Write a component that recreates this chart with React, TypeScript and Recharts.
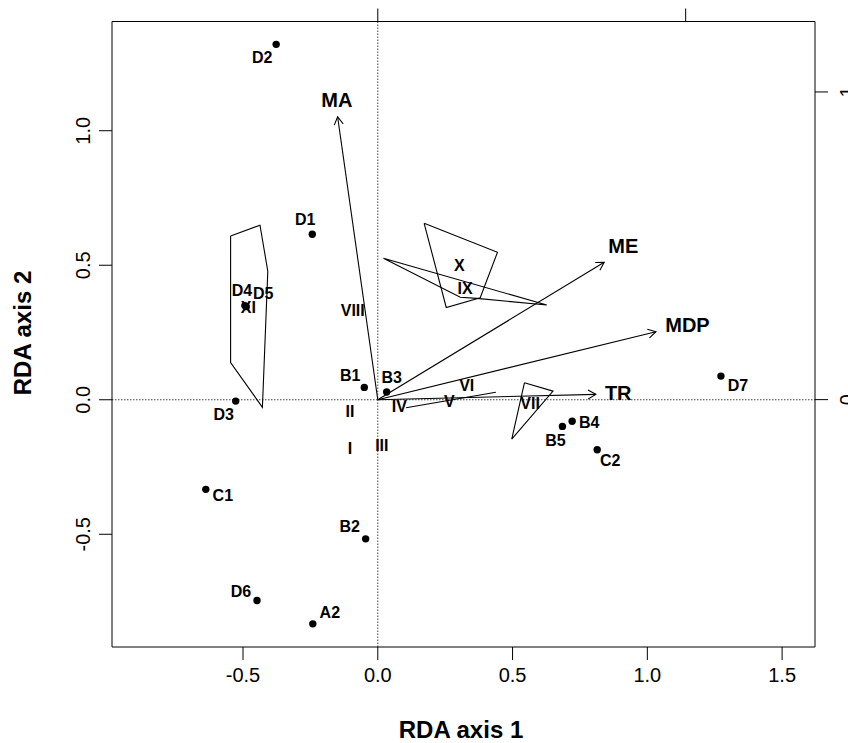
import { ScatterChart, Scatter, XAxis, YAxis, ReferenceLine, Label } from "recharts";

const FONT = "'Liberation Sans', Arial, Helvetica, sans-serif";

const X_TICKS = [-0.5, 0, 0.5, 1, 1.5];
const Y_TICKS = [-0.5, 0, 0.5, 1];
const TOP_TICKS = [0, 1];
const RIGHT_TICKS = [0, 1];
// one unit of the secondary (top) axis, in RDA axis 1 units
const TOP_UNIT = 1.1422;

// sites (dots)
const SITE_NAMES = ["D2", "D1", "D4", "D5", "D3", "C1", "B2", "D6", "A2", "B1", "B3", "D7", "B4", "B5", "C2"];
const SITE_X = [-0.377, -0.243, -0.493, -0.488, -0.527, -0.638, -0.045, -0.448, -0.241, -0.05, 0.033, 1.273, 0.721, 0.685, 0.814];
const SITE_Y = [1.321, 0.615, 0.35, 0.346, -0.005, -0.333, -0.517, -0.746, -0.833, 0.046, 0.029, 0.088, -0.08, -0.099, -0.186];
// where each site name sits relative to its dot, px
const SITE_DX = [-14, -7, -3, 17, -12, 17, -16, -16, 17, -14, 5, 17, 17, -7, 13];
const SITE_DY = [13, -15, -15, -13, 13, 6, -12, -9, -11, -12, -15, 9, 1, 14, 11];

// environmental vectors
const VAR_NAMES = ["MA", "ME", "MDP", "TR"];
const VAR_X = [-0.149, 0.84, 1.032, 0.809];
const VAR_Y = [1.052, 0.511, 0.253, 0.02];
const VAR_LABEL_X = [-0.152, 0.911, 1.149, 0.892];
const VAR_LABEL_Y = [1.114, 0.572, 0.278, 0.025];

// group centroids
const GROUP_NAMES = ["I", "II", "III", "IV", "V", "VI", "VII", "VIII", "IX", "X", "XI"];
const GROUP_X = [-0.103, -0.103, 0.015, 0.08, 0.265, 0.33, 0.565, -0.093, 0.324, 0.303, -0.48];
const GROUP_Y = [-0.181, -0.045, -0.168, -0.023, -0.007, 0.055, -0.013, 0.331, 0.414, 0.498, 0.343];

// group hulls
const HULL_XI: [number, number][] = [[-0.546, 0.609], [-0.437, 0.649], [-0.408, 0.478], [-0.428, -0.028], [-0.546, 0.138]];
const HULL_X: [number, number][] = [[0.172, 0.656], [0.444, 0.548], [0.38, 0.379], [0.254, 0.343]];
const HULL_IX: [number, number][] = [[0.021, 0.526], [0.627, 0.352], [0.367, 0.377], [0.306, 0.381]];
const HULL_VII: [number, number][] = [[0.544, 0.063], [0.65, 0.032], [0.497, -0.146]];
const HULL_V: [number, number][] = [[0.105, -0.03], [0.438, 0.028]];

const HULLS = [HULL_XI, HULL_X, HULL_IX, HULL_VII, HULL_V];

const sites = SITE_NAMES.map((name, i) => ({ name, x: SITE_X[i], y: SITE_Y[i], dx: SITE_DX[i], dy: SITE_DY[i] }));
const varLabels = VAR_NAMES.map((name, i) => ({ name, x: VAR_LABEL_X[i], y: VAR_LABEL_Y[i] }));
const groups = GROUP_NAMES.map((name, i) => ({ name, x: GROUP_X[i], y: GROUP_Y[i] }));

const fmt = (v: number) => v.toFixed(1);

const BottomTick = (p: any) => (
  <text x={p.x} y={p.y + 22} textAnchor="middle" fontSize={20} fontFamily={FONT} fill="#000">
    {fmt(p.payload.value)}
  </text>
);

const LeftTick = (p: any) => {
  const x = p.x - 9;
  return (
    <text x={x} y={p.y} transform={`rotate(-90, ${x}, ${p.y})`} textAnchor="middle" fontSize={20} fontFamily={FONT} fill="#000">
      {fmt(p.payload.value)}
    </text>
  );
};

// right-hand labels sit half outside the page, as in the source figure
const RightTick = (p: any) => {
  const x = p.x + 26;
  return (
    <text x={x} y={p.y} transform={`rotate(-90, ${x}, ${p.y})`} textAnchor="middle" fontSize={20} fontFamily={FONT} fill="#000">
      {p.payload.value}
    </text>
  );
};

// top axis tick: a short mark going up from the frame
const TopTickMark = (p: any) => {
  const top = Math.min(p.y1, p.y2);
  return <line x1={p.x1} y1={top} x2={p.x1} y2={top - 13} stroke="#000" strokeWidth={1} />;
};

const NoDot = () => <g />;

const Arrow = (p: any) => {
  const { x1, y1, x2, y2 } = p;
  const ang = Math.atan2(y2 - y1, x2 - x1);
  const len = 9;
  const spread = Math.PI / 6;
  const ax = x2 - len * Math.cos(ang - spread);
  const ay = y2 - len * Math.sin(ang - spread);
  const bx = x2 - len * Math.cos(ang + spread);
  const by = y2 - len * Math.sin(ang + spread);
  return (
    <g stroke="#000" strokeWidth={1.1} fill="none">
      <line x1={x1} y1={y1} x2={x2} y2={y2} />
      <polyline points={`${ax},${ay} ${x2},${y2} ${bx},${by}`} />
    </g>
  );
};

const SiteDot = (p: any) => (
  <g>
    <circle cx={p.cx} cy={p.cy} r={3.7} fill="#000" />
    <text x={p.cx + p.payload.dx} y={p.cy + p.payload.dy} dy="0.35em" textAnchor="middle" fontSize={16} fontWeight="bold" fontFamily={FONT} fill="#000">
      {p.payload.name}
    </text>
  </g>
);

const VarText = (p: any) => (
  <text x={p.cx} y={p.cy} dy="0.35em" textAnchor="middle" fontSize={20} fontWeight="bold" fontFamily={FONT} fill="#000">
    {p.payload.name}
  </text>
);

const GroupText = (p: any) => (
  <text x={p.cx} y={p.cy} dy="0.35em" textAnchor="middle" fontSize={16} fontWeight="bold" fontFamily={FONT} fill="#000">
    {p.payload.name}
  </text>
);

const XTitle = () => (
  <text x={461} y={738} textAnchor="middle" fontSize={24} fontWeight="bold" fontFamily={FONT} fill="#000">
    RDA axis 1
  </text>
);

const YTitle = () => (
  <text x={31} y={333} transform="rotate(-90, 31, 333)" textAnchor="middle" fontSize={24} fontWeight="bold" fontFamily={FONT} fill="#000">
    RDA axis 2
  </text>
);

export default function App() {
  return (
    <div style={{ position: "absolute", left: 0, top: 0, background: "#fff" }}>
      <ScatterChart width={848} height={743} margin={{ top: 1.5, right: 3, bottom: 36, left: 52 }}>
        <XAxis
          xAxisId="x"
          type="number"
          dataKey="x"
          domain={[-0.986, 1.622]}
          allowDataOverflow
          ticks={X_TICKS}
          tick={BottomTick}
          tickSize={13}
          tickMargin={0}
          height={60}
          stroke="#000"
          tickLine={{ stroke: "#000" }}
        >
          <Label content={XTitle} />
        </XAxis>
        <XAxis
          xAxisId="top"
          orientation="top"
          type="number"
          domain={[-0.8635, 1.42]}
          allowDataOverflow
          tick={false}
          tickLine={false}
          height={20}
          stroke="#000"
        />
        <YAxis
          yAxisId="y"
          type="number"
          dataKey="y"
          domain={[-0.919, 1.406]}
          allowDataOverflow
          ticks={Y_TICKS}
          tick={LeftTick}
          tickSize={13}
          tickMargin={0}
          width={60}
          stroke="#000"
        >
          <Label content={YTitle} />
        </YAxis>
        <YAxis
          yAxisId="right"
          orientation="right"
          type="number"
          domain={[-0.804, 1.229]}
          allowDataOverflow
          ticks={RIGHT_TICKS}
          tick={RightTick}
          tickSize={13}
          tickMargin={0}
          width={30}
          stroke="#000"
        />

        <ReferenceLine xAxisId="x" yAxisId="y" x={0} stroke="#444" strokeDasharray="1.5 1.5" />
        <ReferenceLine xAxisId="x" yAxisId="y" y={0} stroke="#444" strokeDasharray="1.5 1.5" />

        {TOP_TICKS.map((t) => (
          <ReferenceLine
            key={"top" + t}
            xAxisId="x"
            yAxisId="y"
            x={t * TOP_UNIT}
            ifOverflow="visible"
            shape={TopTickMark}
            stroke="#000"
          />
        ))}

        {HULLS.map((h, i) => (
          <Scatter
            key={"hull" + i}
            xAxisId="x"
            yAxisId="y"
            data={[...h, h[0]].map(([x, y]) => ({ x, y }))}
            fill="#000"
            line={{ stroke: "#000", strokeWidth: 1.1 }}
            lineType="joint"
            shape={NoDot}
            isAnimationActive={false}
          />
        ))}

        {VAR_NAMES.map((n, i) => (
          <ReferenceLine
            key={n}
            xAxisId="x"
            yAxisId="y"
            segment={[{ x: 0, y: 0 }, { x: VAR_X[i], y: VAR_Y[i] }]}
            shape={Arrow}
            stroke="#000"
          />
        ))}

        <Scatter xAxisId="x" yAxisId="y" data={sites} fill="#000" shape={SiteDot} isAnimationActive={false} />
        <Scatter xAxisId="x" yAxisId="y" data={groups} fill="#000" shape={GroupText} isAnimationActive={false} />
        <Scatter xAxisId="x" yAxisId="y" data={varLabels} fill="#000" shape={VarText} isAnimationActive={false} />
      </ScatterChart>
    </div>
  );
}
